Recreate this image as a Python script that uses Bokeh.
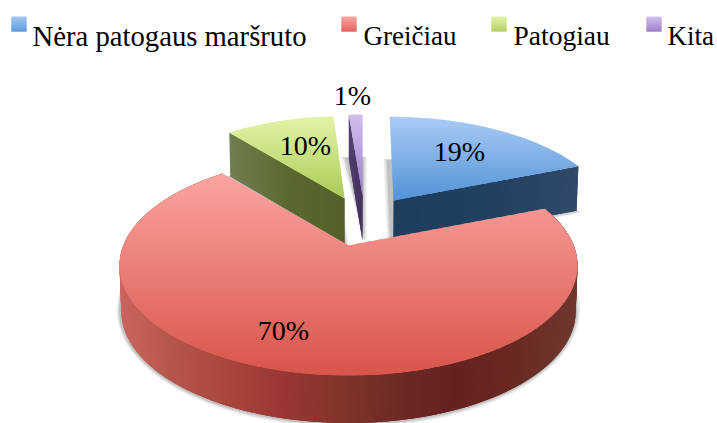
import math
from bokeh.plotting import figure
from bokeh.embed import file_html
from bokeh.resources import INLINE
from bokeh.core.properties import value
from bokeh.models import ColumnDataSource, Range1d

categories = ["Nėra patogaus maršruto", "Greičiau", "Patogiau", "Kita"]
shares = [19, 70, 10, 1]
labels = ["19%", "70%", "10%", "1%"]

# --- styles
FONT = "Liberation Serif"
top_from = ["#a9cbf6", "#fba4a0", "#e2f3a6", "#d2bdee"]
top_to = ["#5292d6", "#d8544a", "#aacb55", "#9c7cc8"]
side_stops = [
    [(0, "#1e3e60"), (0.5, "#20405f"), (1, "#31496a")],
    [(0, "#c9665e"), (0.11, "#b6574c"), (0.24, "#a8463c"), (0.37, "#983634"), (0.50, "#803428"),
     (0.61, "#6e2a26"), (0.74, "#662020"), (0.87, "#6a2a24"), (1, "#6f3830")],
    [(0, "#707e4e"), (0.5, "#5a6830"), (1, "#53602a")],
    [(0, "#4a3668"), (1, "#3e2c58")],
]
swatch_from = ["#a3c8f5", "#fba4a0", "#e2f3a6", "#d2bdee"]
swatch_to = ["#5a98da", "#e0605a", "#b4d060", "#9c7cc8"]

# --- layout (pixels of the picture)
W, H = 717, 423
CX, CY, RX, RY, OFFS = 349.0, 265.0, 229.0, 110.0, 20.0
PERSP = 2 * OFFS / (2 * RY)
KX = RX * math.sqrt(1 - PERSP ** 2)
vertex = [(393, 200), (348, 245), (344, 198), (362, 195)]
scale = [(0.95, 0.93), (1.0, 1.0), (0.915, 0.915), (1.15, 0.9)]
shear = [0.045, 0.0, 0.0, 0.0]
draw_order = [0, 2, 3, 1]
label_xy = [(459, 151), (283, 330), (305, 145), (352, 95)]
legend_swatch_x = [11, 341, 491, 646]
legend_text_x = [32, 363, 513, 667]
legend_font_px = ["28.7px", "27px", "27.5px", "27px"]
legend_swatch_y = 16
legend_baseline = 35


def base(theta):
    t = math.radians(theta)
    u, v = math.sin(t), math.cos(t)
    d = 1 + PERSP * v
    return KX * u / d, -(RY * v + OFFS) / d + OFFS  # relative to the apex


def to_screen(i, theta):
    dx, dy = base(theta)
    sx, sy = scale[i]
    return vertex[i][0] + sx * dx + shear[i] * sy * dy, vertex[i][1] + sy * dy


def depth(y):
    return 43.5 + (y - 115) * 4.0 / 260


def lower(x, y):
    return CX + (x - CX) * 0.992, y + depth(y)


def hex2(c):
    return [int(c[k:k + 2], 16) for k in (1, 3, 5)]


def mix(a, b, t):
    t = max(0, min(1, t))
    A, B = hex2(a), hex2(b)
    return "#%02x%02x%02x" % tuple(round(A[k] + (B[k] - A[k]) * t) for k in range(3))


def ramp(stops, t):
    for (t0, c0), (t1, c1) in zip(stops, stops[1:]):
        if t <= t1:
            return mix(c0, c1, (t - t0) / (t1 - t0))
    return stops[-1][1]


def clip(poly, ylo, yhi):
    def cut(pts, keep, ylim):
        out = []
        for k in range(len(pts)):
            a, b = pts[k], pts[(k + 1) % len(pts)]
            ka, kb = keep(a[1]), keep(b[1])
            if ka:
                out.append(a)
            if ka != kb:
                t = (ylim - a[1]) / (b[1] - a[1])
                out.append((a[0] + (b[0] - a[0]) * t, ylim))
        return out
    p1 = cut(poly, lambda y: y >= ylo, ylo)
    return cut(p1, lambda y: y <= yhi, yhi) if p1 else []


p = figure(width=717, height=423, output_backend="svg", toolbar_location=None,
           x_range=Range1d(0, W), y_range=Range1d(H, 0),
           x_axis_location=None, y_axis_location=None, min_border=0, outline_line_color=None)
p.grid.visible = False
p.background_fill_color = "white"
p.border_fill_color = "white"


def add(polys, colors, alpha=1.0):
    p.patches(xs=[[q[0] for q in r] for r in polys], ys=[[q[1] for q in r] for r in polys],
              fill_color=colors, fill_alpha=alpha, line_color=None)


def gradient(poly, c0, c1, step=2.0):
    ys = [q[1] for q in poly]
    lo, hi = min(ys), max(ys)
    polys, cols = [], []
    y = lo
    while y < hi:
        r = clip(poly, y, y + step + 1)
        if len(r) >= 3:
            polys.append(r)
            cols.append(mix(c0, c1, (y - lo) / (hi - lo)))
        y += step
    add(polys, cols)


edges = [0]
for s in shares:
    edges.append(edges[-1] + s * 3.6)

for i in draw_order:
    a0, a1 = edges[i], edges[i + 1]
    n = max(3, int((a1 - a0) / 2))
    thetas = [a0 + (a1 - a0) * k / n for k in range(n + 1)]
    rim = [to_screen(i, t) for t in thetas]
    top = [vertex[i]] + rim
    # soft shadow under the slice
    low = [lower(*q) for q in top]
    gx = sum(q[0] for q in low) / len(low)
    gy = sum(q[1] for q in low) / len(low)
    for grow, al in zip((5.0, 3.5, 2.0), (0.10, 0.16, 0.22)):
        fx = 1 + grow / max(q[0] - gx for q in low)
        fy = 1 + grow / max(q[1] - gy for q in low)
        add([[(gx + (q[0] - gx) * fx - 0.5, gy + (q[1] - gy) * fy) for q in low]], ["#6a6a6a"], al)

    polys, cols = [], []
    # flat cut faces
    if i in (0, 2, 3):
        end = rim[-1] if i == 0 else rim[0]
        steps = 40
        first, last = (vertex[i], end) if i == 0 else (end, vertex[i])
        for k in range(steps):
            t0, t1 = k / steps, min(1, (k + 2) / steps)
            A = (first[0] + (last[0] - first[0]) * t0, first[1] + (last[1] - first[1]) * t0)
            B = (first[0] + (last[0] - first[0]) * t1, first[1] + (last[1] - first[1]) * t1)
            polys.append([A, B, lower(*B), lower(*A)])
            cols.append(ramp(side_stops[i], t0))
    # rim, coloured by its position across the pie
    if i == 1:
        fine = [a0 + (a1 - a0) * k / (n * 2) for k in range(n * 2 + 1)]
        pts = [to_screen(i, t) for t in fine]
        xmin, xmax = min(q[0] for q in pts), max(q[0] for q in pts)
        for k in range(len(pts) - 1):
            a, b = pts[k], pts[min(k + 3, len(pts) - 1)]
            polys.append([a, b, lower(*b), lower(*a)])
            cols.append(ramp(side_stops[i], (a[0] - xmin) / (xmax - xmin)))
    if polys:
        add(polys, cols)
    gradient(top, top_from[i], top_to[i])

# labels
src = ColumnDataSource(dict(x=[q[0] for q in label_xy], y=[q[1] for q in label_xy], t=labels))
p.text("x", "y", text="t", source=src, text_font=value(FONT), text_font_size="28px",
       text_align="center", text_baseline="middle", text_color="#000000")

# legend
for i, c in enumerate(categories):
    xs = legend_swatch_x[i]
    y0 = legend_swatch_y
    square = [(xs, y0), (xs + 15, y0), (xs + 15, y0 + 15), (xs, y0 + 15)]
    gradient(square, swatch_from[i], swatch_to[i], step=1.0)
src2 = ColumnDataSource(dict(x=legend_text_x, y=[legend_baseline] * 4, t=categories, fs=legend_font_px))
p.text("x", "y", text="t", source=src2, text_font=value(FONT), text_font_size="fs",
       text_align="left", text_baseline="alphabetic", text_color="#000000")

open("out.html", "w").write(file_html(p, INLINE))
